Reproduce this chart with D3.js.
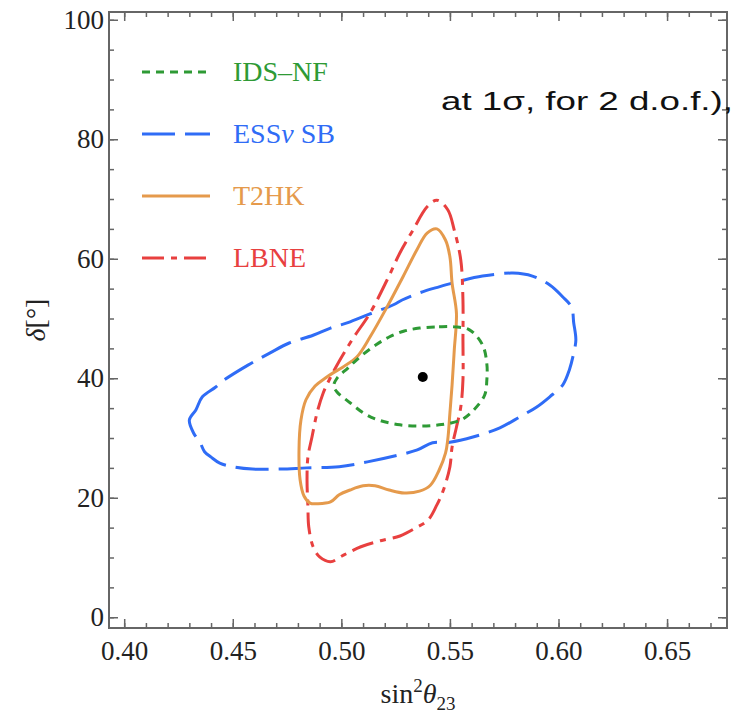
<!DOCTYPE html>
<html>
<head>
<meta charset="utf-8">
<script src="https://cdn.jsdelivr.net/npm/d3@7"></script>
<style>
  html, body { margin: 0; padding: 0; background: #fff; }
  svg { display: block; }
</style>
</head>
<body>
<svg id="chart" width="734" height="717"></svg>
<script>
// ---------------- data ----------------
const xMajorTicks = [0.40, 0.45, 0.50, 0.55, 0.60, 0.65];
const yMajorTicks = [0, 20, 40, 60, 80, 100];
const seriesNames = ["IDS\u2013NF", "ESS\u03BD SB", "T2HK", "LBNE"];
const bestFit = [0.5375, 40.2];

const idsnf = [
  [0.536,48.4],[0.545,48.6],[0.552,48.6],[0.559,48.1],[0.565,45.6],[0.567,42.4],
  [0.567,39.7],[0.566,37.2],[0.561,34.7],[0.555,33.0],[0.545,32.2],[0.536,32.0],
  [0.527,32.2],[0.518,32.9],[0.511,34.0],[0.504,35.9],[0.498,37.7],[0.4965,38.7],
  [0.498,40.0],[0.503,41.7],[0.509,43.7],[0.516,45.6],[0.522,46.9],[0.529,47.9]
];
const esssb = [
  [0.430,33.0],[0.433,34.7],[0.436,36.9],[0.442,38.5],[0.446,39.7],[0.457,42.2],
  [0.467,44.2],[0.476,45.9],[0.487,47.2],[0.495,48.4],[0.503,49.3],[0.512,50.6],
  [0.524,52.3],[0.528,53.1],[0.536,54.3],[0.545,55.3],[0.555,56.3],[0.565,57.1],
  [0.579,57.6],[0.588,57.1],[0.596,55.6],[0.602,53.6],[0.606,51.9],[0.607,49.3],
  [0.608,46.4],[0.607,44.2],[0.605,41.4],[0.602,38.9],[0.596,36.9],[0.590,35.2],
  [0.582,33.5],[0.573,31.7],[0.561,30.2],[0.550,29.3],[0.542,29.2],[0.535,28.0],
  [0.527,27.2],[0.512,26.0],[0.499,25.2],[0.484,25.0],[0.472,24.8],[0.459,24.8],
  [0.450,25.2],[0.444,25.8],[0.440,26.8],[0.437,27.7],[0.435,29.2],[0.432,30.8]
];
const t2hk = [
  [0.544,65.0],[0.548,63.1],[0.550,60.3],[0.551,55.9],[0.553,50.9],[0.552,44.7],
  [0.551,38.9],[0.550,34.2],[0.549,29.7],[0.548,27.5],[0.545,24.6],[0.541,22.1],
  [0.536,21.1],[0.529,20.8],[0.522,21.3],[0.5155,22.0],[0.510,22.0],[0.504,21.3],
  [0.499,20.5],[0.495,19.3],[0.489,19.0],[0.4856,19.1],[0.4828,20.3],[0.481,23.0],
  [0.4805,28.0],[0.4814,33.0],[0.4837,36.4],[0.4879,38.7],[0.4925,40.0],[0.4962,40.9],
  [0.5008,41.9],[0.5072,43.6],[0.5132,46.9],[0.521,51.9],[0.5284,57.0],[0.5348,61.5],
  [0.5395,64.3]
];
const lbne = [
  [0.544,69.8],[0.549,68.2],[0.552,64.8],[0.555,59.8],[0.556,53.1],[0.556,46.4],
  [0.556,39.7],[0.555,35.2],[0.553,31.8],[0.551,28.5],[0.550,25.2],[0.547,21.3],
  [0.544,18.8],[0.540,16.3],[0.534,14.9],[0.527,13.6],[0.518,12.8],[0.509,11.8],
  [0.501,10.4],[0.495,9.3],[0.490,10.1],[0.487,11.8],[0.485,15.1],[0.4846,18.5],
  [0.4842,23.0],[0.4846,26.8],[0.4865,30.2],[0.4888,34.2],[0.4916,37.5],[0.4948,40.0],
  [0.4994,43.1],[0.5054,46.7],[0.5132,50.9],[0.521,56.4],[0.527,61.0],[0.533,64.8],
  [0.5395,68.7]
];

// ---------------- layout ----------------
const svg = d3.select("#chart");
const L = 109, R = 727, T = 12, B = 628;
const x = d3.scaleLinear().domain([0.393, 0.6776]).range([L, R]);
const y = d3.scaleLinear().domain([-1.8, 101.3]).range([B, T]);

const serif = "'Liberation Serif', 'Times New Roman', serif";
const frameCol = "#666";

const colors = ["#2e9a35", "#2f6cf6", "#e59a4c", "#e8403f"];
const dashes = ["8,6", "33,10", null, "22,7,6,7"];
const series = [idsnf, esssb, t2hk, lbne];

// contours
const line = d3.line().x(d => x(d[0])).y(d => y(d[1])).curve(d3.curveCatmullRomClosed.alpha(0.5));
const drawOrder = [1, 3, 2, 0];
drawOrder.forEach(i => {
  svg.append("path")
    .attr("d", line(series[i]))
    .attr("fill", "none")
    .attr("stroke", colors[i])
    .attr("stroke-width", 3)
    .attr("stroke-dasharray", dashes[i])
    .attr("stroke-linejoin", "round");
});

svg.append("circle").attr("cx", x(bestFit[0])).attr("cy", y(bestFit[1])).attr("r", 5).attr("fill", "#000");

// axes
const xMinor = d3.range(0.40, 0.676, 0.01).map(v => +v.toFixed(2));
const yMinor = d3.range(0, 101, 5);

function styleAxis(g) {
  g.select(".domain").remove();
  g.selectAll(".tick line").attr("stroke", frameCol).attr("stroke-width", 1.5);
  g.selectAll(".tick text").attr("font-family", serif).attr("font-size", 27).attr("fill", "#222");
}

svg.append("g").attr("transform", `translate(0,${B})`)
  .call(d3.axisBottom(x).tickValues(xMinor).tickSize(-5).tickFormat("")).call(styleAxis);
svg.append("g").attr("transform", `translate(0,${B})`)
  .call(d3.axisBottom(x).tickValues(xMajorTicks).tickSize(-9).tickPadding(10).tickFormat(d3.format(".2f"))).call(styleAxis)
  .selectAll(".tick text").attr("dy", "0.8em");
svg.append("g").attr("transform", `translate(0,${T})`)
  .call(d3.axisTop(x).tickValues(xMinor).tickSize(-5).tickFormat("")).call(styleAxis);
svg.append("g").attr("transform", `translate(0,${T})`)
  .call(d3.axisTop(x).tickValues(xMajorTicks).tickSize(-9).tickFormat("")).call(styleAxis);

svg.append("g").attr("transform", `translate(${L},0)`)
  .call(d3.axisLeft(y).tickValues(yMinor).tickSize(-5).tickFormat("")).call(styleAxis);
svg.append("g").attr("transform", `translate(${L},0)`)
  .call(d3.axisLeft(y).tickValues(yMajorTicks).tickSize(-9).tickPadding(5).tickFormat(d3.format("d"))).call(styleAxis);
svg.append("g").attr("transform", `translate(${R},0)`)
  .call(d3.axisRight(y).tickValues(yMinor).tickSize(-5).tickFormat("")).call(styleAxis);
svg.append("g").attr("transform", `translate(${R},0)`)
  .call(d3.axisRight(y).tickValues(yMajorTicks).tickSize(-9).tickFormat("")).call(styleAxis);

svg.append("rect").attr("x", L).attr("y", T).attr("width", R - L).attr("height", B - T)
  .attr("fill", "none").attr("stroke", frameCol).attr("stroke-width", 2);

// axis titles
const xt = svg.append("text").attr("x", 418).attr("y", 703).attr("text-anchor", "middle")
  .attr("font-family", serif).attr("font-size", 28).attr("fill", "#222");
xt.append("tspan").text("sin");
xt.append("tspan").attr("font-size", 19).attr("dy", -11).text("2");
xt.append("tspan").attr("font-style", "italic").attr("dy", 11).text("\u03B8");
xt.append("tspan").attr("font-size", 19).attr("dy", 7).text("23");

const yt = svg.append("text").attr("transform", "translate(45,320) rotate(-90)").attr("text-anchor", "middle")
  .attr("font-family", serif).attr("font-size", 28).attr("fill", "#222");
yt.append("tspan").attr("font-style", "italic").text("\u03B4");
yt.append("tspan").text("[\u00B0]");

// legend
const legY = [72, 134, 196, 258];
series.forEach((s, i) => {
  svg.append("line").attr("x1", 142).attr("x2", 210).attr("y1", legY[i]).attr("y2", legY[i])
    .attr("stroke", colors[i]).attr("stroke-width", 3).attr("stroke-dasharray", dashes[i]);
  const t = svg.append("text").attr("x", 233).attr("y", legY[i] + 9)
    .attr("font-family", serif).attr("font-size", 28).attr("fill", colors[i]);
  if (i === 1) {
    t.append("tspan").text("ESS");
    t.append("tspan").attr("font-style", "italic").text("\u03BD");
    t.append("tspan").text(" SB");
  } else {
    t.text(seriesNames[i]);
  }
});

// annotation
svg.append("text").attr("x", 441).attr("y", 110)
  .attr("font-family", "'Liberation Sans', Arial, sans-serif").attr("font-size", 26).attr("fill", "#111")
  .attr("textLength", 292).attr("lengthAdjust", "spacingAndGlyphs")
  .text("at 1\u03C3, for 2 d.o.f.),");
</script>
</body>
</html>
